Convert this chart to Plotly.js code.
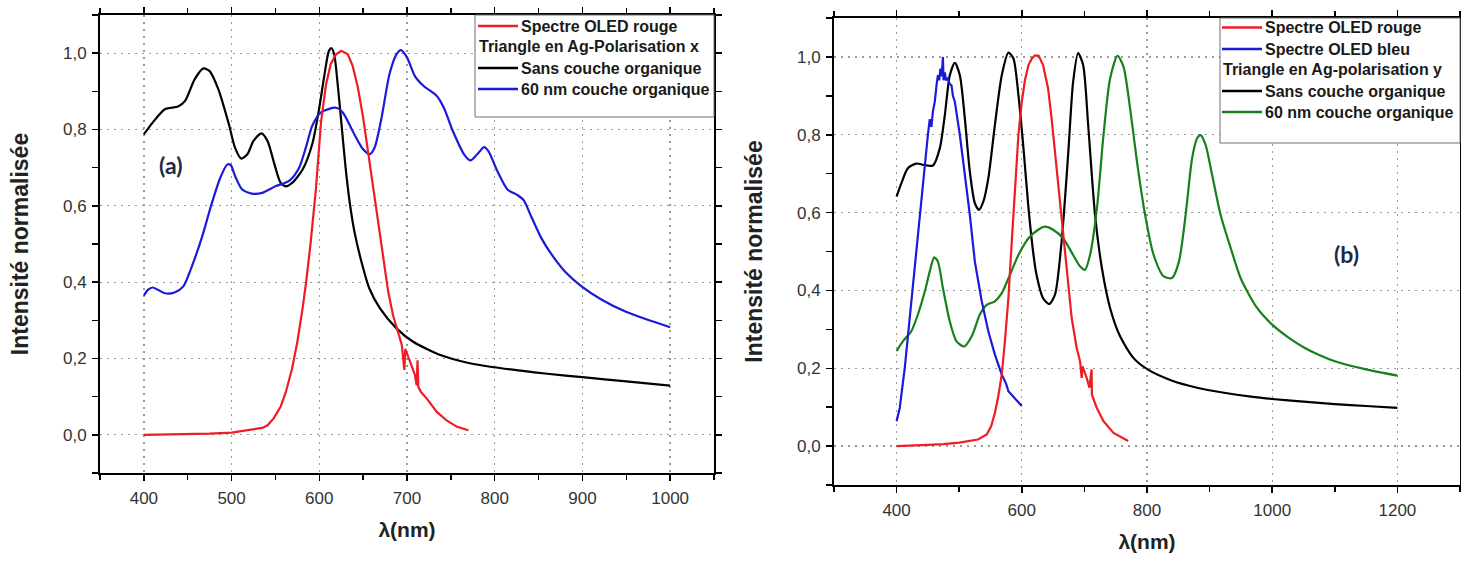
<!DOCTYPE html>
<html><head><meta charset="utf-8">
<script src="https://cdn.plot.ly/plotly-3.0.1.min.js"></script>
<style>html,body{margin:0;padding:0;background:#fff;overflow:hidden}</style>
</head><body><div id="chart" style="width:1461px;height:561px"></div>
<script>
// ---------- Panel (a) : Triangle en Ag - polarisation x ----------
const lamRedA = [400,425,450,475,500,520,535,541,548,556,562,569,575,581,585,590,596,602,607.7,613,619,625,632.6,638,644,650,655.5,661,667,673,678.5,684,690,694,697,698,703.5,709,711,712,713,716,722.6,734,745.6,757,770];
const valRedA = [0,0.001,0.001,0.003,0.006,0.012,0.018,0.025,0.043,0.074,0.113,0.174,0.244,0.332,0.40,0.50,0.64,0.82,0.918,0.971,0.997,1.006,0.997,0.967,0.91,0.831,0.743,0.647,0.551,0.454,0.376,0.314,0.271,0.236,0.17,0.225,0.192,0.157,0.13,0.195,0.125,0.112,0.095,0.06,0.037,0.021,0.012];

const lamBlackA = [400,410,424,439,447,458,468,475,485,497,504,511,518,525,534,541,549,556,562,569,581,592,600,606,611,614,617,621,625,630,634.5,640,648,657,669,688,707,738,769,799,830,860,900,950,1000];
const valBlackA = [0.787,0.818,0.853,0.86,0.875,0.932,0.96,0.953,0.905,0.813,0.752,0.724,0.735,0.77,0.79,0.77,0.708,0.66,0.651,0.66,0.695,0.762,0.857,0.945,1.006,1.013,0.997,0.918,0.822,0.70,0.612,0.533,0.454,0.384,0.332,0.279,0.244,0.209,0.189,0.177,0.168,0.160,0.151,0.140,0.129];

const lamBlueA = [400,404.6,410,416,424,435,445,454,466,477,487,495,499,504,512,523,535,550,566,577,585,592,602,619,627,638,650,657.5,663,671,680,688,693,700,709,719,734,742,753,765,772.5,780,788,793,803,814.5,826,833,842,853,865,880,899,922,949,976,1000];
const valBlueA = [0.365,0.38,0.386,0.38,0.371,0.373,0.389,0.437,0.516,0.603,0.673,0.708,0.707,0.678,0.643,0.632,0.634,0.651,0.666,0.70,0.755,0.81,0.845,0.857,0.844,0.796,0.748,0.735,0.752,0.831,0.945,0.997,1.008,0.989,0.94,0.914,0.888,0.857,0.792,0.735,0.719,0.735,0.754,0.743,0.691,0.643,0.628,0.615,0.57,0.516,0.472,0.428,0.389,0.354,0.323,0.30,0.282];

// ---------- Panel (b) : Triangle en Ag - polarisation y ----------
const lamRedB = [400,425,450,475,500,530,544,551,557,562,568,573,578.6,584,589,594.6,600,605,610.7,616,621,627,634,642,647.6,655.6,663.6,671.7,679.7,687.7,693,695.7,697,703.7,708,711.5,712,719.8,730.5,746.5,770];
const valRedB = [0,0.001,0.003,0.005,0.009,0.017,0.03,0.051,0.085,0.124,0.184,0.269,0.38,0.526,0.671,0.80,0.885,0.94,0.979,0.996,1.004,1.003,0.979,0.919,0.842,0.714,0.568,0.44,0.329,0.252,0.218,0.175,0.205,0.175,0.15,0.197,0.132,0.098,0.064,0.034,0.013];

const lamBlueB = [400,405,413,421,429,437,445,448,450,453,455.6,458,461,464,466,468,470,472,474,475,477,479,482,485,487.7,490,493,501,509,517,525,536,546.5,557,568,575,578.6,582,585,589,595,600];
const valBlueB = [0.064,0.098,0.2,0.329,0.466,0.603,0.722,0.78,0.80,0.84,0.82,0.86,0.885,0.93,0.953,0.94,0.97,0.95,1.0,0.94,0.96,0.94,0.945,0.93,0.927,0.90,0.885,0.80,0.697,0.594,0.474,0.372,0.295,0.235,0.184,0.16,0.141,0.135,0.13,0.124,0.113,0.103];

const lamBlackB = [400,407.5,418,431.6,445,458,469,477,485,493,501,509,517,525,531.5,538.5,546.5,557,568,578.6,586.6,594.6,602.7,610.7,618.7,623.5,634,643.8,653,663.6,674,682,690,698,706,717,728,741,757,778.6,801,837,880,923,966,1000,1050,1100,1150,1200];
const valBlackB = [0.641,0.675,0.714,0.726,0.722,0.721,0.765,0.85,0.953,0.985,0.953,0.842,0.705,0.624,0.607,0.628,0.688,0.825,0.953,1.011,0.996,0.902,0.765,0.611,0.491,0.44,0.38,0.365,0.389,0.526,0.748,0.936,1.01,0.979,0.825,0.594,0.457,0.355,0.282,0.226,0.197,0.170,0.150,0.137,0.127,0.121,0.114,0.108,0.103,0.098];

const lamGreenB = [400,410,423.5,434,445,453,460,466,474,485,495.7,508,520,533,544,557,568,581,594.6,610.7,626,637,650,666,682,693,701,709,720,730.5,741,753,762.6,773,784,797,810.6,826.7,840,851,861.7,872,880,885.6,893.6,904,917.6,933.7,950,975,1000,1025,1050,1075,1100,1150,1200];
const valGreenB = [0.244,0.269,0.295,0.338,0.397,0.449,0.485,0.474,0.406,0.32,0.269,0.256,0.282,0.338,0.363,0.372,0.393,0.44,0.491,0.534,0.556,0.564,0.556,0.534,0.491,0.462,0.453,0.491,0.611,0.799,0.944,1.003,0.974,0.868,0.731,0.594,0.491,0.436,0.432,0.474,0.594,0.739,0.791,0.799,0.774,0.697,0.594,0.509,0.43,0.357,0.312,0.280,0.254,0.234,0.218,0.197,0.181];

// ---------- text ----------
const legendA = ["Spectre OLED rouge","Triangle en Ag-Polarisation x","Sans couche organique","60 nm couche organique"];
const legendB = ["Spectre OLED rouge","Spectre OLED bleu","Triangle en Ag-polarisation y","Sans couche organique","60 nm couche organique"];
const yTitle = "Intensité normalisée";
const xTitle = "λ(nm)";

const RED = '#ee1c24', BLUE = '#1a1ad8', BLACK = '#000000', GREEN = '#16801c';
const W = 1461, H = 561;
const FONT = 'Liberation Sans, Arial, sans-serif';

function tr(x, y, color, xa, ya, spline) {
  return {x: x, y: y, type: 'scatter', mode: 'lines', xaxis: xa, yaxis: ya, showlegend: false,
    line: {color: color, width: 2.2, shape: spline ? 'spline' : 'linear', smoothing: 0.7}, hoverinfo: 'skip'};
}
const data = [
  tr(lamBlackA, valBlackA, BLACK, 'x', 'y', true),
  tr(lamBlueA, valBlueA, BLUE, 'x', 'y', true),
  tr(lamRedA, valRedA, RED, 'x', 'y', false),
  tr(lamBlackB, valBlackB, BLACK, 'x2', 'y2', true),
  tr(lamGreenB, valGreenB, GREEN, 'x2', 'y2', true),
  tr(lamBlueB, valBlueB, BLUE, 'x2', 'y2', false),
  tr(lamRedB, valRedB, RED, 'x2', 'y2', false)
];

function xax(dom, range, dtick, mdtick, anchor) {
  return {domain: dom, range: range, anchor: anchor, tick0: 0, dtick: dtick,
    ticks: 'outside', ticklen: 6, tickwidth: 1.5, tickcolor: '#000',
    showline: true, linecolor: '#000', linewidth: 2, mirror: 'ticks',
    showgrid: true, gridcolor: '#9a9a9a', griddash: '2px,5px', gridwidth: 1.3, zeroline: false,
    minor: {dtick: mdtick, tick0: 0, ticks: 'outside', ticklen: 5, tickwidth: 1.5, tickcolor: '#000', showgrid: false},
    tickfont: {family: FONT, size: 17, color: '#333'}, ticklabelstandoff: 3,
    title: {text: '<b>' + xTitle + '</b>', font: {family: FONT, size: 21, color: '#222'}, standoff: 15},
    automargin: false, fixedrange: true};
}
function yax(dom, anchor) {
  return {domain: dom, range: [-0.1, 1.1], anchor: anchor, tick0: 0, dtick: 0.2, tickformat: '.1f',
    ticks: 'outside', ticklen: 6, tickwidth: 1.5, tickcolor: '#000',
    showline: true, linecolor: '#000', linewidth: 2, mirror: 'ticks',
    showgrid: true, gridcolor: '#9a9a9a', griddash: '2px,5px', gridwidth: 1.3, zeroline: false,
    minor: {dtick: 0.1, tick0: 0, ticks: 'outside', ticklen: 6, tickwidth: 1.5, tickcolor: '#000', showgrid: false},
    tickfont: {family: FONT, size: 17, color: '#333'}, ticklabelstandoff: 2,
    title: {text: '<b>' + yTitle + '</b>', font: {family: FONT, size: 23, color: '#222'}, standoff: 28},
    automargin: false, fixedrange: true};
}

const shapes = [];
const annotations = [];
function legendBox(x0, x1, y0, y1, lineX0, lineX1, textX, rows) {
  shapes.push({type: 'rect', xref: 'paper', yref: 'paper', x0: x0 / W, x1: x1 / W, y0: 1 - y1 / H, y1: 1 - y0 / H,
    line: {color: '#6e6e6e', width: 1}, fillcolor: '#fff', layer: 'above'});
  rows.forEach(r => {
    if (r.color) {
      shapes.push({type: 'line', xref: 'paper', yref: 'paper', x0: lineX0 / W, x1: lineX1 / W, y0: 1 - r.y / H, y1: 1 - r.y / H,
        line: {color: r.color, width: 2.5}, layer: 'above'});
    }
    annotations.push({xref: 'paper', yref: 'paper', x: (r.color ? textX : lineX0) / W, y: 1 - r.y / H,
      xanchor: 'left', yanchor: 'middle', showarrow: false, borderpad: 0,
      text: '<b>' + r.text + '</b>', font: {family: FONT, size: 16, color: '#1a1a1a'}});
  });
}
legendBox(475, 714, 15, 117, 478, 518, 520, [
  {text: legendA[0], color: RED, y: 26},
  {text: legendA[1], color: null, y: 47},
  {text: legendA[2], color: BLACK, y: 68},
  {text: legendA[3], color: BLUE, y: 89}
]);
legendBox(1220, 1460, 18, 143, 1222, 1262, 1264, [
  {text: legendB[0], color: RED, y: 27.5},
  {text: legendB[1], color: BLUE, y: 49},
  {text: legendB[2], color: null, y: 70},
  {text: legendB[3], color: BLACK, y: 91},
  {text: legendB[4], color: GREEN, y: 112}
]);
annotations.push({xref: 'paper', yref: 'paper', x: 170 / W, y: 1 - 165 / H, xanchor: 'center', yanchor: 'middle',
  showarrow: false, text: '<b>(a)</b>', font: {family: 'Lato, Open Sans, sans-serif', size: 23, color: '#1c2b45'}});
annotations.push({xref: 'paper', yref: 'paper', x: 1346 / W, y: 1 - 254 / H, xanchor: 'center', yanchor: 'middle',
  showarrow: false, text: '<b>(b)</b>', font: {family: 'Lato, Open Sans, sans-serif', size: 23, color: '#1c2b45'}});

const layout = {
  width: W, height: H, margin: {l: 0, r: 0, t: 0, b: 0},
  paper_bgcolor: '#fff', plot_bgcolor: '#fff', separators: ', ', showlegend: false,
  xaxis: xax([100 / W, 714 / W], [350, 1050], 100, 50, 'y'),
  yaxis: yax([1 - 473 / H, 1 - 15 / H], 'x'),
  xaxis2: xax([834 / W, 1460 / W], [300, 1300], 200, 100, 'y2'),
  yaxis2: yax([1 - 485 / H, 1 - 18 / H], 'x2'),
  shapes: shapes, annotations: annotations
};
Plotly.newPlot('chart', data, layout, {staticPlot: true, displayModeBar: false});
</script></body></html>
